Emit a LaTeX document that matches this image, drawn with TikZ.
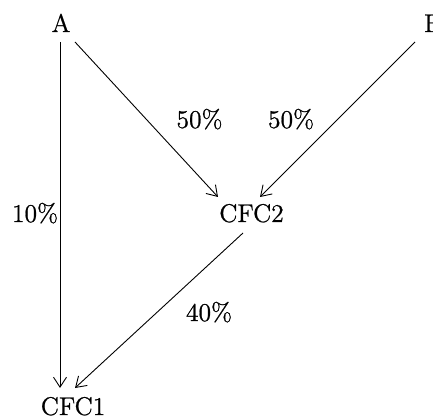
\documentclass[tikz,border=0pt]{standalone}
\usepackage{fontspec}
\newfontfamily\reff{Latin Modern Roman}[FakeBold=0.8]
\usetikzlibrary{calc,arrows.meta}
\begin{document}
\begin{tikzpicture}[x=0.5pt,y=-0.5pt,
  lbl/.style={inner sep=0pt,anchor=base,font=\reff\fontsize{12.8}{14}\selectfont},
  edge/.style={line width=0.45pt,-{Straight Barb[length=5pt,width=6.5pt,line width=0.45pt]}}]
\useasboundingbox (0,0) rectangle (433,416);
\node[lbl] (A) at (61,32) {A};
\node[lbl] (B) at (433,32) {B};
\node[lbl] (cfc2) at (251.5,222) {CFC2};
\node[lbl] (cfc1) at (73,415) {CFC1};
\node[lbl] (p50a) at (199.5,128) {50\%};
\node[lbl] (p50b) at (291,128) {50\%};
\node[lbl] (p10) at (35,222) {10\%};
\node[lbl] (p40) at (209,321) {40\%};
\draw[edge] ($(A.base)+(-1,10)$) -- ($(cfc1.base)+(-13,-27)$);
\draw[edge] ($(A.base)+(14,10)$) -- ($(cfc2.base)+(-33.5,-25)$);
\draw[edge] ($(B.base)+(-18,10)$) -- ($(cfc2.base)+(8.5,-25)$);
\draw[edge] ($(cfc2.base)+(-8.5,11)$) -- ($(cfc1.base)+(2,-27)$);
\end{tikzpicture}
\end{document}
